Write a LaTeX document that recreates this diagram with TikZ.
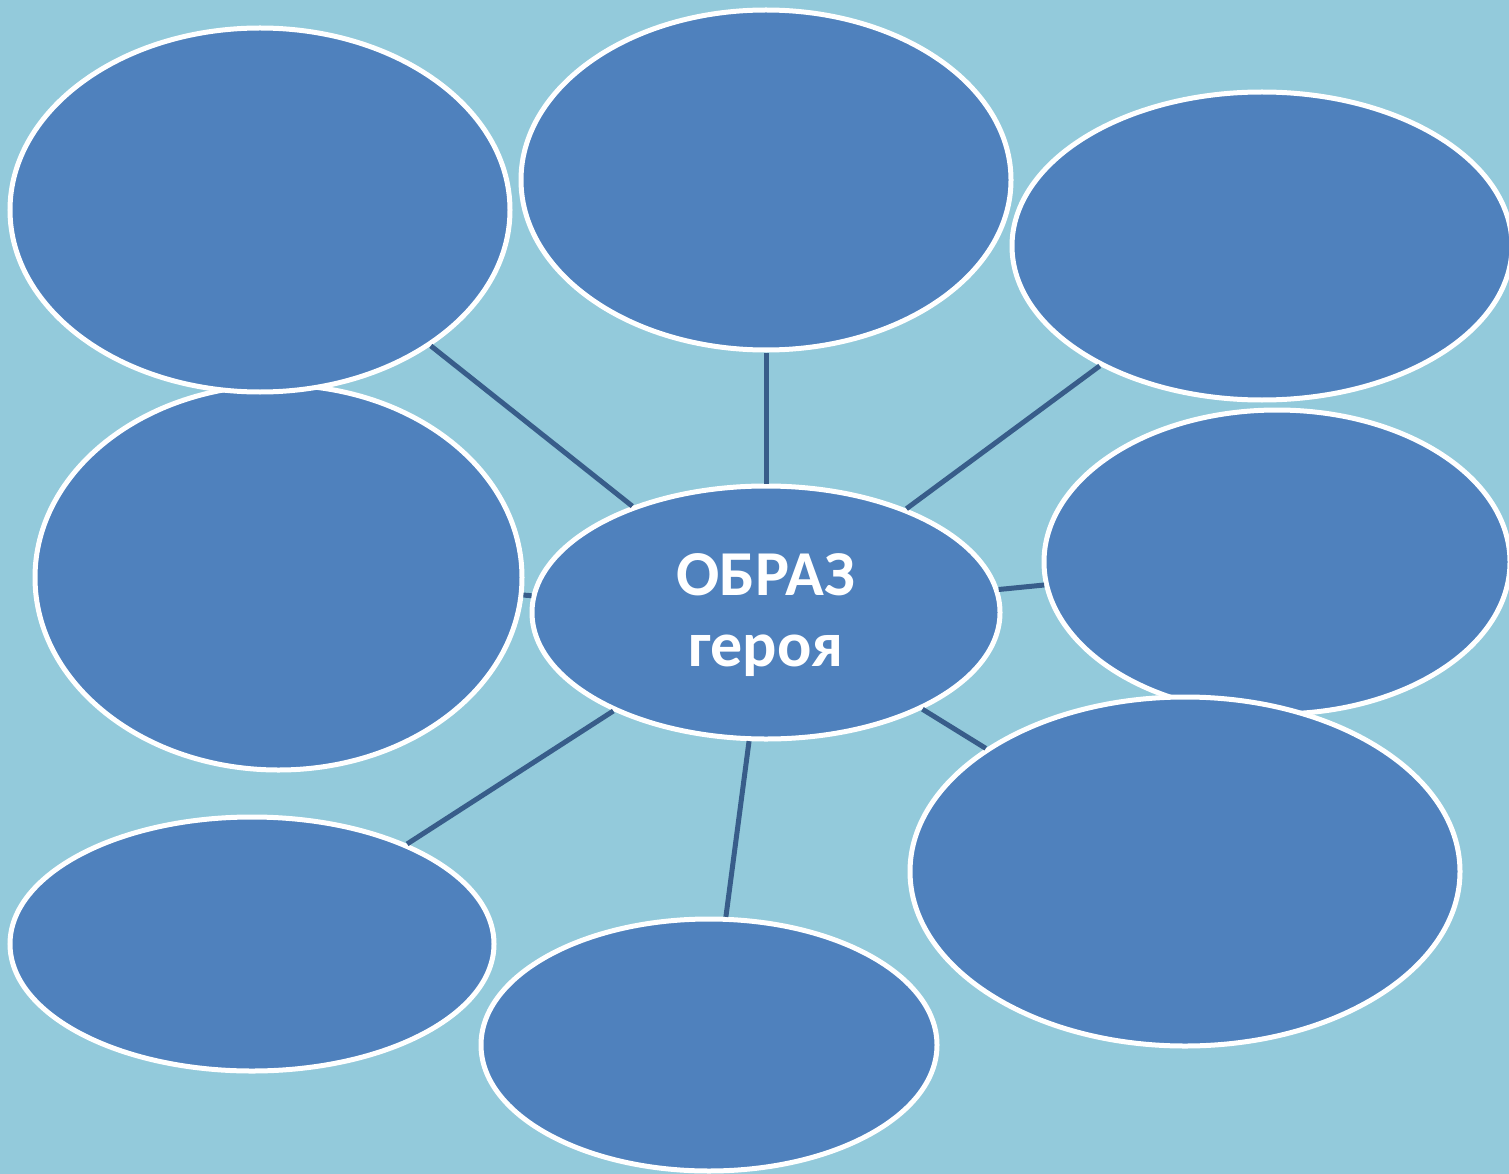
\documentclass[tikz,border=0pt]{standalone}
\usepackage{fontspec}
\setmainfont{Carlito}
\usetikzlibrary{shapes.geometric}
\definecolor{bgblue}{RGB}{147,202,219}
\definecolor{bubblefill}{RGB}{79,129,189}
\definecolor{linkblue}{RGB}{56,93,138}
\begin{document}
\begin{tikzpicture}[x=1pt,y=-1pt,
	bubble/.style={draw=white,line width=5pt,ellipse,fill=bubblefill,inner sep=0pt},
	link/.style={draw=linkblue,line width=5pt}]
			\fill[bgblue] (0,0) rectangle (1509,1174);
			\useasboundingbox (0,0) rectangle (1509,1174);
			\node[bubble,minimum width=487pt,minimum height=385pt] (ML)at(278.5,577.5) {};
			\node[bubble,minimum width=500pt,minimum height=364pt] (TL)at(260,210) {};
			\node[bubble,minimum width=490pt,minimum height=340pt] (TM)at(766,180) {};
			\node[bubble,minimum width=500pt,minimum height=308pt] (TR)at(1262,246) {};
			\node[bubble,minimum width=466pt,minimum height=304pt] (MR)at(1277,562) {};
			\node[bubble,minimum width=550pt,minimum height=349pt] (BR)at(1185,871.5) {};
			\node[bubble,minimum width=484pt,minimum height=254pt] (BL)at(252,944) {};
			\node[bubble,minimum width=456pt,minimum height=252pt] (BM)at(709,1045) {};
			\node[bubble,minimum width=468pt,minimum height=253pt,text=white,align=center,text depth=5pt,font=\bfseries\fontsize{64}{71}\selectfont] (C)at(766,612.5) {ОБРАЗ\\героя};
			\draw[link] (C) -- (TL);
			\draw[link] (C) -- (TM);
			\draw[link] (C) -- (TR);
			\draw[link] (C) -- (ML);
			\draw[link] (C) -- (MR);
			\draw[link] (C) -- (BR);
			\draw[link] (C) -- (BL);
			\draw[link] (C) -- (BM);
			\end{tikzpicture}
\end{document}
